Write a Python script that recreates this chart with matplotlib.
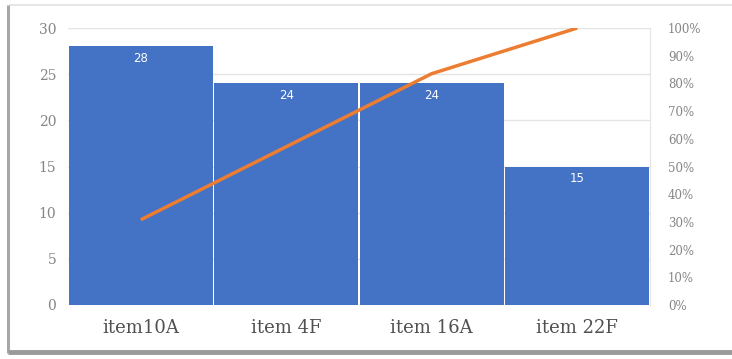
import matplotlib
matplotlib.use("Agg")
import matplotlib.pyplot as plt
from matplotlib.lines import Line2D
import numpy as np

categories = ["item10A", "item 4F", "item 16A", "item 22F"]
counts = [28, 24, 24, 15]
left_ticks = [0, 5, 10, 15, 20, 25, 30]
right_ticks = [0, 10, 20, 30, 40, 50, 60, 70, 80, 90, 100]

cumulative_pct = np.cumsum(counts) / np.sum(counts) * 100

BAR = "#4472C4"
LINE = "#ED7D31"
TICK = "#858585"
GRID = "#e4e4e4"
W, H = 732, 359

fig = plt.figure(figsize=(W / 100, H / 100), dpi=100)
fig.patch.set_facecolor("white")


def frame_line(x0, y0, x1, y1, color, lw):
    fig.add_artist(Line2D([x0 / W, x1 / W], [1 - y0 / H, 1 - y1 / H],
                          transform=fig.transFigure, color=color,
                          linewidth=lw, solid_capstyle="butt", zorder=0))


# panel outline with a shadow along the left and bottom edges
frame_line(9, 5, W, 5, "#e2e2e2", 1.2)
frame_line(8, 5, 8, 353, "#a8a8a8", 2.2)
frame_line(8, 352, W, 352, "#9a9a9a", 3.5)

ax = fig.add_axes([68 / W, 1 - 305 / H, (650 - 68) / W, (305 - 28) / H])
ax.set_facecolor("none")
x = np.arange(len(categories))
ax.bar(x, counts, width=0.99, color=BAR, edgecolor="none", zorder=2)
ax.set_xlim(-0.5, len(categories) - 0.5)
ax.set_ylim(0, 30)
ax.set_yticks(left_ticks)
ax.set_yticklabels([str(t) for t in left_ticks], fontsize=10, color=TICK,
                   family="DejaVu Serif")
ax.set_xticks(x)
ax.set_xticklabels(categories, fontsize=13, color="#505050",
                   family="DejaVu Serif")
ax.tick_params(axis="both", length=0)
ax.tick_params(axis="y", pad=8.5)
ax.tick_params(axis="x", pad=10)
ax.grid(axis="y", color=GRID, linewidth=1, zorder=0)
for side in ["top", "left", "bottom"]:
    ax.spines[side].set_visible(False)
ax.spines["right"].set_color(GRID)

for xi, v in zip(x, counts):
    ax.text(xi, v - 0.6, str(v), ha="center", va="top", color="white",
            fontsize=8.5, family="DejaVu Sans", zorder=4)

ax2 = ax.twinx()
ax2.plot(x, cumulative_pct, color=LINE, linewidth=2.5, zorder=5,
         solid_capstyle="butt")
ax2.set_ylim(0, 100)
ax2.set_yticks(right_ticks)
ax2.set_yticklabels([f"{t}%" for t in right_ticks], fontsize=8.5, color=TICK,
                    family="DejaVu Serif")
ax2.tick_params(axis="y", length=0, pad=13)
for side in ["top", "left", "bottom", "right"]:
    ax2.spines[side].set_visible(False)

fig.savefig("out.png", dpi=100)
